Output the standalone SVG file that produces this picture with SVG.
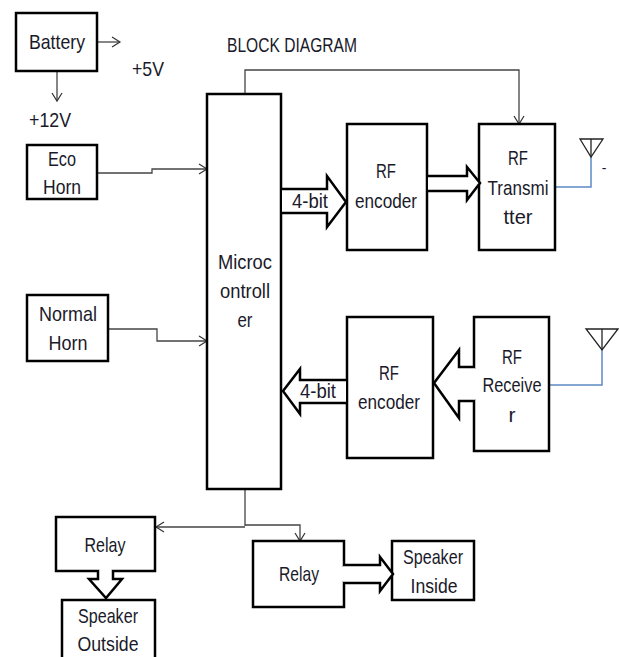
<svg xmlns="http://www.w3.org/2000/svg" width="619" height="657" viewBox="0 0 619 657">
<defs>
<marker id="a" markerWidth="12" markerHeight="12" refX="9" refY="6" orient="auto" markerUnits="userSpaceOnUse"><path d="M1 1L9 6L1 11" fill="none" stroke="#333" stroke-width="1.2"/></marker>
</defs>
<style>
.n{fill:#fff;stroke:#000;stroke-width:2.5}
.b{fill:#fff;stroke:#000;stroke-width:2.5}
.c{fill:none;stroke:#444;stroke-width:1.3}
.w{fill:none;stroke:#5b8bc4;stroke-width:1.5}
.ant{fill:#fff;stroke:#222;stroke-width:1.3}
.g{fill:none;stroke:#fff;stroke-width:4}
text{font-family:"Liberation Sans",Arial,sans-serif;font-size:21px;fill:#1a1a2a;text-anchor:middle}
</style>
<rect width="619" height="657" fill="#fff"/>
<g id="connectors">
<path class="c" d="M97 42H120" marker-end="url(#a)"/>
<path class="c" d="M57 71V101" marker-end="url(#a)"/>
<path class="c" d="M97 173H152V169H207" marker-end="url(#a)"/>
<path class="c" d="M108 329H157V341H207" marker-end="url(#a)"/>
<path class="c" d="M245 94V70H519V124" marker-end="url(#a)"/>
<path class="c" d="M245 489V526"/>
<path class="c" d="M245 527H156" marker-end="url(#a)"/>
<path class="c" d="M245 525H300V541" marker-end="url(#a)"/>
<path class="w" d="M556 187H591V157"/>
<path class="w" d="M550 385H602V350"/>
</g>
<g id="battery"><rect class="n" x="16" y="13" width="81" height="58"/><text x="57" y="49" textLength="56" lengthAdjust="spacingAndGlyphs">Battery</text></g>
<g id="eco-horn"><rect class="n" x="27" y="145" width="70" height="54"/><text x="62" y="166" textLength="28" lengthAdjust="spacingAndGlyphs">Eco</text><text x="62" y="194" textLength="38" lengthAdjust="spacingAndGlyphs">Horn</text></g>
<g id="normal-horn"><rect class="n" x="27" y="295" width="81" height="66"/><text x="68" y="321" textLength="58" lengthAdjust="spacingAndGlyphs">Normal</text><text x="68" y="350" textLength="39" lengthAdjust="spacingAndGlyphs">Horn</text></g>
<g id="microcontroller"><rect class="n" x="207" y="94" width="74" height="395"/><text x="245" y="269" textLength="54" lengthAdjust="spacingAndGlyphs">Microc</text><text x="245" y="298" textLength="50" lengthAdjust="spacingAndGlyphs">ontroll</text><text x="245" y="327" textLength="15" lengthAdjust="spacingAndGlyphs">er</text></g>
<g id="rf-encoder-top"><rect class="n" x="347" y="124" width="80" height="126"/><text x="386" y="178" textLength="20" lengthAdjust="spacingAndGlyphs">RF</text><text x="386" y="208" textLength="62" lengthAdjust="spacingAndGlyphs">encoder</text></g>
<g id="rf-transmitter"><rect class="n" x="479" y="124" width="76" height="126"/><text x="518" y="165" textLength="20" lengthAdjust="spacingAndGlyphs">RF</text><text x="518" y="195" textLength="61" lengthAdjust="spacingAndGlyphs">Transmi</text><text x="518" y="224" textLength="29" lengthAdjust="spacingAndGlyphs">tter</text></g>
<g id="rf-encoder-bottom"><rect class="n" x="347" y="317" width="86" height="141"/><text x="389" y="380" textLength="20" lengthAdjust="spacingAndGlyphs">RF</text><text x="389" y="409" textLength="62" lengthAdjust="spacingAndGlyphs">encoder</text></g>
<g id="rf-receiver"><rect class="n" x="474" y="317" width="75" height="134"/><text x="512" y="364" textLength="20" lengthAdjust="spacingAndGlyphs">RF</text><text x="512" y="392" textLength="59" lengthAdjust="spacingAndGlyphs">Receive</text><text x="512" y="422" textLength="7" lengthAdjust="spacingAndGlyphs">r</text></g>
<g id="relay-left"><rect class="n" x="56" y="517" width="99" height="54"/><text x="105" y="552" textLength="41" lengthAdjust="spacingAndGlyphs">Relay</text></g>
<g id="speaker-outside"><rect class="n" x="62" y="600" width="93" height="60"/><text x="108" y="623" textLength="60" lengthAdjust="spacingAndGlyphs">Speaker</text><text x="108" y="651" textLength="61" lengthAdjust="spacingAndGlyphs">Outside</text></g>
<g id="relay-right"><rect class="n" x="253" y="541" width="91" height="66"/><text x="299" y="581" textLength="40" lengthAdjust="spacingAndGlyphs">Relay</text></g>
<g id="speaker-inside"><rect class="n" x="392" y="541" width="82" height="59"/><text x="433" y="564" textLength="60" lengthAdjust="spacingAndGlyphs">Speaker</text><text x="434" y="593" textLength="47" lengthAdjust="spacingAndGlyphs">Inside</text></g>
<g id="arrows">
<path class="b" d="M282 189H327V176L346 202L327 227V213H282"/>
<path class="b" d="M428 176H467V167L480 183L467 200V191H428"/>
<path class="g" d="M474 369V399"/>
<path class="b" d="M475 367H459V350L434 383L459 418V401H475"/>
<path class="b" d="M346 380H300V369L283 391L300 414V403H346"/>
<path class="g" d="M99.500 571H111.500"/>
<path class="b" d="M98 570V579H89L106 598L122 579H113V570"/>
<path class="g" d="M344 567V581"/>
<path class="b" d="M343 565H380V557L393 574L380 591V583H343"/>
</g>
<g id="antenna-tx"><path class="ant" d="M580 139H603L591 157Z"/><path class="ant" d="M591 139V157"/></g>
<g id="antenna-rx"><path class="ant" d="M586 329H618L602 350Z"/><path class="ant" d="M602 329V350"/></g>
<g id="labels">
<text x="292" y="52" textLength="130" lengthAdjust="spacingAndGlyphs">BLOCK DIAGRAM</text>
<text x="148" y="76" textLength="32" lengthAdjust="spacingAndGlyphs">+5V</text>
<text x="50" y="127" textLength="42" lengthAdjust="spacingAndGlyphs">+12V</text>
<text x="310" y="208" textLength="36" lengthAdjust="spacingAndGlyphs">4-bit</text>
<text x="318" y="398" textLength="36" lengthAdjust="spacingAndGlyphs">4-bit</text>
<text x="604" y="173" style="font-size:14px">-</text>
</g>
</svg>
